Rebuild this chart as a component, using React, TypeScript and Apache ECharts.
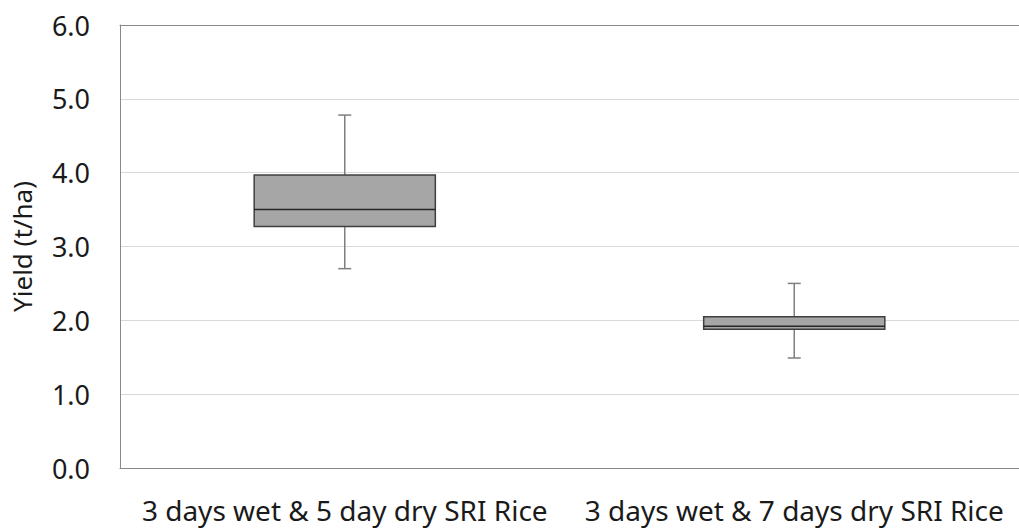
import React, { useEffect, useRef } from "react";
import * as echarts from "echarts";

const categories = ["3 days wet & 5 day dry SRI Rice", "3 days wet & 7 days dry SRI Rice"];
// box statistics per category
const boxMin = [2.7, 1.49];
const boxQ1 = [3.27, 1.88];
const boxMedian = [3.5, 1.92];
const boxQ3 = [3.97, 2.05];
const boxMax = [4.78, 2.5];
const yTicks = [0, 1, 2, 3, 4, 5, 6];

const FONT = "'Noto Sans', 'Open Sans', sans-serif";
const BORDER = "#898989";

export default function App() {
  const ref = useRef<HTMLDivElement>(null);
  useEffect(() => {
    if (!ref.current) return;
    const chart = echarts.init(ref.current, undefined, { renderer: "svg" });
    const data = categories.map((_, i) => [i, boxMin[i], boxQ1[i], boxMedian[i], boxQ3[i], boxMax[i]]);
    chart.setOption({
      animation: false,
      backgroundColor: "#ffffff",
      grid: {
        left: 120,
        top: 25,
        right: -4,
        bottom: 61,
        show: false,
      },
      xAxis: [
        {
          type: "category",
          data: categories,
          axisLine: { show: true, lineStyle: { color: BORDER } },
          axisTick: { show: false },
          splitLine: { show: false },
          axisLabel: {
            color: "#1a1a1a",
            fontFamily: FONT,
            fontSize: 28,
            margin: 28,
            interval: 0,
            hideOverlap: false,
          },
        },
        {
          type: "category",
          position: "top",
          data: categories,
          axisLine: { show: true, lineStyle: { color: BORDER } },
          axisTick: { show: false },
          splitLine: { show: false },
          axisLabel: { show: false },
        },
      ],
      yAxis: {
        type: "value",
        min: yTicks[0],
        max: yTicks[yTicks.length - 1],
        interval: 1,
        name: "Yield (t/ha)",
        nameLocation: "middle",
        nameGap: 85,
        nameTextStyle: {
          color: "#1a1a1a",
          fontFamily: FONT,
          fontSize: 26,
        },
        axisLine: { show: true, lineStyle: { color: BORDER } },
        axisTick: { show: false },
        splitLine: { lineStyle: { color: "#d9d9d9", width: 1 } },
        axisLabel: {
          color: "#1a1a1a",
          fontFamily: FONT,
          fontSize: 27,
          margin: 30,
          formatter: (v: number) => v.toFixed(1),
        },
      },
      series: [
        {
          type: "custom",
          data,
          encode: { x: 0, y: [1, 2, 3, 4, 5] },
          renderItem: (params: any, api: any) => {
            const idx = api.value(0);
            const pMin = api.coord([idx, api.value(1)]);
            const pQ1 = api.coord([idx, api.value(2)]);
            const pMed = api.coord([idx, api.value(3)]);
            const pQ3 = api.coord([idx, api.value(4)]);
            const pMax = api.coord([idx, api.value(5)]);
            const band = api.size([1, 0])[0];
            const w = band * 0.403;
            const cx = pMed[0];
            const cap = 6.5;
            const whisker = { stroke: "#7f7f7f", lineWidth: 1.5 };
            return {
              type: "group",
              children: [
                { type: "line", shape: { x1: cx, y1: pMax[1], x2: cx, y2: pQ3[1] }, style: whisker },
                { type: "line", shape: { x1: cx, y1: pQ1[1], x2: cx, y2: pMin[1] }, style: whisker },
                { type: "line", shape: { x1: cx - cap, y1: pMax[1], x2: cx + cap, y2: pMax[1] }, style: whisker },
                { type: "line", shape: { x1: cx - cap, y1: pMin[1], x2: cx + cap, y2: pMin[1] }, style: whisker },
                {
                  type: "rect",
                  shape: { x: cx - w / 2, y: pQ3[1], width: w, height: pQ1[1] - pQ3[1] },
                  style: { fill: "#a6a6a6", stroke: "#3f3f3f", lineWidth: 1.5 },
                },
                {
                  type: "line",
                  shape: { x1: cx - w / 2, y1: pMed[1], x2: cx + w / 2, y2: pMed[1] },
                  style: { stroke: "#262626", lineWidth: 1.5 },
                },
              ],
            };
          },
        },
      ],
    });
    return () => chart.dispose();
  }, []);
  return (
    <div
      ref={ref}
      style={{ position: "fixed", left: 0, top: 0, width: 1019, height: 529, background: "#fff" }}
    />
  );
}
